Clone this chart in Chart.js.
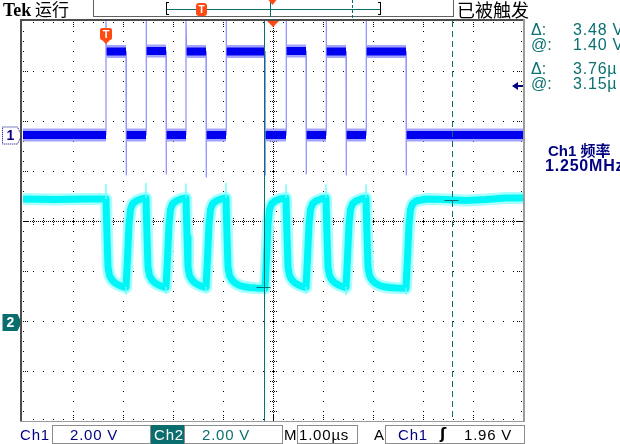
<!DOCTYPE html>
<html lang="zh">
<head>
<meta charset="utf-8">
<title>Tek</title>
<script src="https://cdn.jsdelivr.net/npm/chart.js@4.4.1/dist/chart.umd.min.js"></script>
<style>
html,body{margin:0;padding:0;background:#fff;}
#wrap{position:relative;width:620px;height:444px;overflow:hidden;background:#fff;}
#c{position:absolute;left:0;top:0;}
.t{position:absolute;white-space:nowrap;line-height:1;font-family:"Liberation Sans","Noto Sans CJK SC",sans-serif;font-size:15px;color:#000;}
.cjk{font-family:"Noto Sans CJK SC",sans-serif;}
.teal{color:#0b7070;}
.navy{color:#000080;}
.box{position:absolute;top:425px;height:19px;border:1px solid #8c8c8c;box-sizing:border-box;}
.sb{top:427px;font-size:15px;letter-spacing:0.8px;}
.rl{font-size:16px;}
.rv{font-size:16px;letter-spacing:0.8px;}
</style>
</head>
<body>
<div id="wrap">
<canvas id="c" width="620" height="444"></canvas>

<div class="t" style="left:3px;top:1px;font-family:'Liberation Serif',serif;font-weight:bold;font-size:18px;">Tek</div>
<div class="t cjk" style="left:35px;top:0px;font-size:17px;">运行</div>
<div class="t cjk" style="left:457px;top:0px;font-size:18px;">已被触发</div>
<div class="t" id="hdrT" style="left:196px;top:5px;width:11px;text-align:center;font-weight:bold;font-size:10px;color:#fff;">T</div>
<div class="t" id="trigT" style="width:12px;text-align:center;font-weight:bold;font-size:11px;color:#fff;">T</div>
<div class="t navy" id="mk1" style="width:17px;text-align:center;font-weight:bold;font-size:14px;">1</div>
<div class="t" id="mk2" style="width:17px;text-align:center;font-weight:bold;font-size:14px;color:#fff;">2</div>

<div class="t teal rl" style="left:531px;top:22px;">Δ:</div>
<div class="t teal rv" style="left:573px;top:22px;">3.48 V</div>
<div class="t teal rl" style="left:531px;top:37px;">@:</div>
<div class="t teal rv" style="left:573px;top:37px;">1.40 V</div>
<div class="t teal rl" style="left:531px;top:61px;">Δ:</div>
<div class="t teal rv" style="left:573px;top:61px;">3.76µ</div>
<div class="t teal rl" style="left:531px;top:76px;">@:</div>
<div class="t teal rv" style="left:573px;top:76px;">3.15µ</div>

<div class="t navy" style="left:548px;top:143px;font-weight:bold;font-size:15px;">Ch1 频率</div>
<div class="t navy" style="left:545px;top:158px;font-weight:bold;font-size:16px;letter-spacing:0.8px;">1.250MHz</div>

<div class="box" style="left:52px;width:99px;"></div>
<div class="box" style="left:151px;width:33px;background:#0b6e6e;border-color:#0b6e6e;"></div>
<div class="box" style="left:184px;width:99px;"></div>
<div class="box" style="left:297px;width:61px;"></div>
<div class="box" style="left:385px;width:140px;"></div>
<div class="t sb navy" style="left:20px;">Ch1</div>
<div class="t sb navy" style="left:70px;">2.00 V</div>
<div class="t sb" style="left:154px;color:#fff;">Ch2</div>
<div class="t sb teal" style="left:202px;">2.00 V</div>
<div class="t sb" style="left:284px;">M</div>
<div class="t sb" style="left:299px;">1.00µs</div>
<div class="t sb" style="left:374px;">A</div>
<div class="t sb navy" style="left:398px;">Ch1</div>
<div class="t sb" style="left:440px;font-weight:bold;font-family:'DejaVu Sans',sans-serif;">ʃ</div>
<div class="t sb" style="left:464px;">1.96 V</div>
</div>

<script>
const timeAxisMin = -1.66;   // µs (trigger point = 0)
const timeAxisMax = 8.34;
const voltsPerDiv = 2.0;
const ch1Offset = 1.72;      // divisions
const ch2Offset = -2.02;     // divisions
const trigLevel = 1.96;      // V on Ch1

const ch1EdgeTimes = [0.00,0.40,0.80,1.20,1.60,2.00,2.40,3.18,3.60,4.00,4.40,4.80,5.20,6.00];
const ch1StartLevel = 0.00;
const ch1Levels = [3.34,0.00,3.36,0.00,3.34,0.00,3.34,0.00,3.36,0.00,3.34,0.00,3.34,0.00];
const ch1SpikeVolts = [4.56,-1.60,4.56,-1.56,4.56,-1.68,4.56,-1.60,4.56,-1.56,4.56,-1.60,4.56,-1.60];

const ch2Times = [
 -1.66,-1.00,-0.40,0.00,
 0.02,0.04,0.07,0.12,0.18,0.26,0.34,0.40,
 0.43,0.46,0.49,0.53,0.60,0.70,0.80,
 0.82,0.84,0.87,0.92,0.98,1.06,1.14,1.20,
 1.23,1.26,1.29,1.33,1.40,1.50,1.60,
 1.62,1.64,1.67,1.72,1.78,1.86,1.94,2.00,
 2.03,2.06,2.09,2.13,2.20,2.30,2.40,
 2.42,2.44,2.47,2.52,2.58,2.66,2.74,2.86,3.00,3.18,
 3.21,3.24,3.27,3.31,3.38,3.48,3.60,
 3.62,3.64,3.67,3.72,3.78,3.86,3.94,4.00,
 4.03,4.06,4.09,4.13,4.20,4.30,4.40,
 4.42,4.44,4.47,4.52,4.58,4.66,4.74,4.80,
 4.83,4.86,4.89,4.93,5.00,5.10,5.20,
 5.22,5.24,5.27,5.32,5.38,5.46,5.54,5.66,5.80,6.00,
 6.03,6.06,6.09,6.13,6.20,6.40,6.80,7.20,7.60,8.00,8.34
];
const ch2Volts = [
 4.92,4.90,4.92,4.92,
 3.40,2.20,1.86,1.68,1.56,1.47,1.41,1.38,
 2.60,3.90,4.50,4.72,4.84,4.92,4.96,
 3.40,2.20,1.86,1.68,1.56,1.47,1.41,1.38,
 2.60,3.90,4.50,4.72,4.84,4.92,4.96,
 3.40,2.20,1.86,1.68,1.56,1.47,1.41,1.38,
 2.60,3.90,4.50,4.72,4.84,4.92,4.96,
 3.40,2.20,1.86,1.68,1.56,1.47,1.42,1.38,1.36,1.35,
 2.60,3.90,4.50,4.72,4.84,4.92,4.96,
 3.40,2.20,1.86,1.68,1.56,1.47,1.41,1.38,
 2.60,3.90,4.50,4.72,4.84,4.92,4.96,
 3.40,2.20,1.86,1.68,1.56,1.47,1.41,1.38,
 2.60,3.90,4.50,4.72,4.84,4.92,4.96,
 3.40,2.20,1.86,1.68,1.56,1.47,1.42,1.38,1.36,1.35,
 2.60,3.90,4.50,4.72,4.84,4.92,4.90,4.86,4.90,4.96,4.96
];
const ch2SpikeTimes = [0.00,0.40,0.80,1.20,1.60,2.00,2.40,3.18,3.60,4.00,4.40,4.80,5.20,6.00];
const ch2SpikeVolts = [5.52,1.12,5.56,1.16,5.54,1.20,5.56,1.12,5.50,1.16,5.50,1.10,5.50,1.12];

const cursorTimes = [3.15, 6.91];
const cursorVolts = [1.40, 4.88];   // on Ch2

// ---------------- build library data ----------------
const d1 = v => ch1Offset + v / voltsPerDiv;
const d2 = v => ch2Offset + v / voltsPerDiv;
const EDGE = 0.012;

const ch1Plateau = [];
ch1Plateau.push({x: timeAxisMin, y: d1(ch1StartLevel)}, {x: ch1EdgeTimes[0], y: d1(ch1StartLevel)}, {x: ch1EdgeTimes[0], y: null});
ch1EdgeTimes.forEach((t, i) => {
  const end = i + 1 < ch1EdgeTimes.length ? ch1EdgeTimes[i + 1] : timeAxisMax;
  ch1Plateau.push({x: t + EDGE, y: d1(ch1Levels[i])}, {x: end, y: d1(ch1Levels[i])}, {x: end, y: null});
});

const ch1Trace = [{x: timeAxisMin, y: d1(ch1StartLevel)}];
let prev = ch1StartLevel;
ch1EdgeTimes.forEach((t, i) => {
  ch1Trace.push({x: t, y: d1(prev)}, {x: t, y: d1(ch1SpikeVolts[i])}, {x: t + EDGE, y: d1(ch1Levels[i])});
  prev = ch1Levels[i];
});
ch1Trace.push({x: timeAxisMax, y: d1(prev)});

const ch2Trace = ch2Times.map((t, i) => ({x: t, y: d2(ch2Volts[i])}));
const ch2Spikes = [];
ch2SpikeTimes.forEach((t, i) => {
  const k = ch2Times.findIndex(tt => Math.abs(tt - t) < 1e-9);
  const base = ch2Volts[k];
  ch2Spikes.push({x: t, y: d2(base)}, {x: t, y: d2(ch2SpikeVolts[i])}, {x: t, y: null});
});

const COL = {teal: '#0b6e6e', navy: '#000080', orange: '#ff4a14', frame: '#4e4e4e', light: '#9c9c9c'};

const line = (data, color, width, order) => ({
  data, borderColor: color, borderWidth: width, showLine: true, pointRadius: 0,
  tension: 0, borderJoinStyle: 'round', spanGaps: false, order, fill: false
});

const scopePlugin = {
  id: 'scope',
  beforeDatasetsDraw(chart) {
    const {ctx, chartArea: a} = chart;
    const L = Math.round(a.left), T = Math.round(a.top), R = Math.round(a.right), B = Math.round(a.bottom);
    const dx = (R - L) / 10, dy = (B - T) / 8;
    ctx.save();
    ctx.fillStyle = '#000';
    for (let k = 1; k < 10; k++) {
      if (k === 5) continue;
      const x = L + k * dx;
      for (let y = T + 10; y < B; y += 10) ctx.fillRect(x, y, 1, 1);
    }
    for (let j = 1; j < 8; j++) {
      if (j === 4) continue;
      const y = T + j * dy;
      for (let x = L + 10; x < R; x += 10) ctx.fillRect(x, y, 1, 1);
    }
    const cx = L + 5 * dx, cy = T + 4 * dy;
    for (let x = L + 1; x < R; x += 2) ctx.fillRect(x, cy, 1, 1);
    for (let y = T + 1; y < B; y += 2) ctx.fillRect(cx, y, 1, 1);
    for (let x = L + 10; x < R; x += 10) [-3, -1, 1, 3].forEach(o => ctx.fillRect(x, cy + o, 1, 1));
    for (let y = T + 10; y < B; y += 10) [-3, -1, 1, 3].forEach(o => ctx.fillRect(cx + o, y, 1, 1));
    // edge ticks
    for (let y = T + 10; y < B; y += 10) {
      const maj = (y - T) % 50 === 0;
      ctx.fillRect(L, y, 1, 1); ctx.fillRect(R - 2, y, 1, 1);
      if (maj) { ctx.fillRect(L + 2, y, 1, 1); ctx.fillRect(L + 4, y, 1, 1); ctx.fillRect(R - 4, y, 1, 1); ctx.fillRect(R - 6, y, 1, 1); }
    }
    for (let x = L + 10; x < R; x += 10) {
      const maj = (x - L) % 50 === 0;
      ctx.fillRect(x, T + 1, 1, 1); ctx.fillRect(x, B - 2, 1, 1);
      if (maj) { ctx.fillRect(x, T + 3, 1, 1); ctx.fillRect(x, T + 5, 1, 1); ctx.fillRect(x, B - 4, 1, 1); ctx.fillRect(x, B - 6, 1, 1); }
    }
    ctx.restore();
  },
  afterDatasetsDraw(chart) {
    const {ctx, chartArea: a, scales: {x: xs, y: ys}} = chart;
    const T = Math.round(a.top), B = Math.round(a.bottom), L = Math.round(a.left), R = Math.round(a.right);
    ctx.save();
    // cursors
    ctx.strokeStyle = COL.teal; ctx.lineWidth = 1;
    const cx1 = Math.round(xs.getPixelForValue(cursorTimes[0])) + 0.5;
    const cx2 = Math.round(xs.getPixelForValue(cursorTimes[1])) + 0.5;
    ctx.beginPath(); ctx.moveTo(cx1, T - 2); ctx.lineTo(cx1, B); ctx.stroke();
    ctx.setLineDash([6, 4]);
    ctx.beginPath(); ctx.moveTo(cx2, T); ctx.lineTo(cx2, B); ctx.stroke();
    ctx.setLineDash([]);
    ctx.beginPath();
    cursorVolts.forEach((v, i) => {
      const y = Math.round(ys.getPixelForValue(d2(v))) + 0.5;
      const x = xs.getPixelForValue(cursorTimes[i]);
      ctx.moveTo(x - 7, y); ctx.lineTo(x + 7, y);
    });
    ctx.stroke();
    // trigger point marker
    const tx = xs.getPixelForValue(0);
    ctx.fillStyle = COL.orange;
    ctx.beginPath(); ctx.roundRect(tx - 6, T + 7, 12, 12, 2); ctx.fill();
    ctx.beginPath(); ctx.moveTo(tx - 4, T + 19); ctx.lineTo(tx + 4, T + 19); ctx.lineTo(tx, T + 23); ctx.closePath(); ctx.fill();
    // horizontal position triangle
    const mx = (L + R) / 2;
    ctx.beginPath(); ctx.moveTo(mx - 6, T); ctx.lineTo(mx + 6, T); ctx.lineTo(mx, T + 6); ctx.closePath(); ctx.fill();
    // trigger level arrow
    const ty = ys.getPixelForValue(d1(trigLevel));
    ctx.fillStyle = COL.navy;
    ctx.beginPath(); ctx.moveTo(R - 11, ty); ctx.lineTo(R - 5, ty - 4); ctx.lineTo(R - 5, ty + 4); ctx.closePath(); ctx.fill();
    ctx.fillRect(R - 6, ty - 1, 6, 2);
    // channel ground markers
    const g1 = Math.round(ys.getPixelForValue(ch1Offset)) + 0.5;
    const g2 = Math.round(ys.getPixelForValue(ch2Offset)) + 0.5;
    const pent = (y) => { ctx.beginPath(); ctx.moveTo(2.5, y - 8.5); ctx.lineTo(17.5, y - 8.5); ctx.lineTo(21.5, y); ctx.lineTo(17.5, y + 8.5); ctx.lineTo(2.5, y + 8.5); ctx.closePath(); };
    pent(g1); ctx.fillStyle = '#fff'; ctx.fill(); ctx.strokeStyle = COL.navy; ctx.setLineDash([1, 1]); ctx.stroke(); ctx.setLineDash([]);
    pent(g2); ctx.fillStyle = COL.teal; ctx.fill();
    // frame
    ctx.fillStyle = COL.frame;
    ctx.fillRect(L - 3, T - 2, R - L + 5, 2);
    ctx.fillRect(L - 3, T - 2, 2, B - T + 3);
    ctx.fillStyle = COL.light;
    ctx.fillRect(R, T - 2, 2, B - T + 3);
    ctx.fillRect(L - 3, B, R - L + 5, 1);
    // header
    ctx.fillStyle = '#606060';
    ctx.fillRect(93, 0, 1, 17);
    ctx.fillRect(453, 0, 1, 17);
    ctx.fillRect(93, 16, 361, 1);
    ctx.fillStyle = '#000';
    ctx.fillRect(166, 2, 1, 13); ctx.fillRect(166, 2, 3, 1); ctx.fillRect(166, 14, 3, 1);
    ctx.fillRect(380, 2, 1, 13); ctx.fillRect(378, 2, 3, 1); ctx.fillRect(378, 14, 3, 1);
    ctx.fillStyle = COL.teal;
    ctx.fillRect(167, 9, 213, 1);
    ctx.fillRect(270, 0, 1, 17);
    for (let y = 0; y < 17; y += 5) ctx.fillRect(352, y, 1, 3);
    ctx.fillStyle = COL.orange;
    ctx.beginPath(); ctx.roundRect(196, 3, 11, 13, 3); ctx.fill();
    ctx.beginPath(); ctx.moveTo(268.5, 0); ctx.lineTo(276.5, 0); ctx.lineTo(272.5, 5); ctx.closePath(); ctx.fill();
    ctx.restore();

    // place HTML labels that belong to markers
    const put = (id, x, y) => { const e = document.getElementById(id); e.style.left = x + 'px'; e.style.top = y + 'px'; };
    put('trigT', tx - 6, T + 8);
    put('mk1', 2, g1 - 7.5);
    put('mk2', 2, g2 - 7.5);
  }
};

new Chart(document.getElementById('c'), {
  type: 'scatter',
  data: {
    datasets: [
      line(ch1Plateau, '#0000ee', 8, 1),
      line(ch1Plateau, '#a4a4ff', 13, 2),
      line(ch1Trace, '#8c8cff', 1.2, 3),
      line(ch2Spikes, '#70ffff', 1.5, 4),
      line(ch2Trace, '#00f6f6', 7, 5),
      line(ch2Trace, '#a8ffff', 12, 6)
    ]
  },
  options: {
    responsive: false,
    devicePixelRatio: 1,
    animation: false,
    events: [],
    layout: {padding: {left: 23, right: 97, top: 21, bottom: 23}},
    plugins: {legend: {display: false}, tooltip: {enabled: false}, title: {display: false}},
    scales: {
      x: {type: 'linear', min: timeAxisMin, max: timeAxisMax, display: false},
      y: {type: 'linear', min: -4, max: 4, display: false}
    }
  },
  plugins: [scopePlugin]
});
</script>
</body>
</html>
